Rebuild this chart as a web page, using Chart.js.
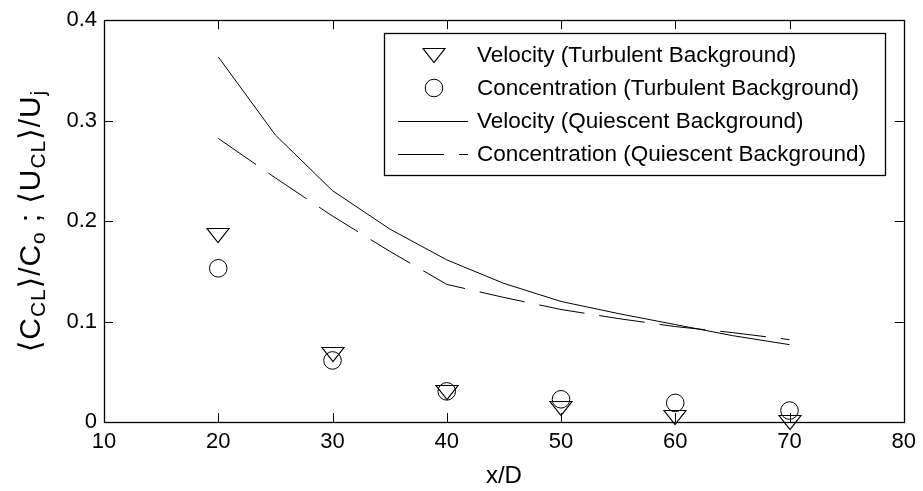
<!DOCTYPE html>
<html>
<head>
<meta charset="utf-8">
<script src="https://cdn.jsdelivr.net/npm/chart.js@4/dist/chart.umd.min.js"></script>
<style>
  html, body { margin: 0; padding: 0; background: #fff; }
  #wrap { width: 923px; height: 491px; }
</style>
</head>
<body>
<div id="wrap"><canvas id="c" width="923" height="491"></canvas></div>
<script>
// Axis ticks
const xTicks = [10, 20, 30, 40, 50, 60, 70, 80];
const yTicks = [0, 0.1, 0.2, 0.3, 0.4];
const yTickLabels = ['0', '0.1', '0.2', '0.3', '0.4'];

// Measured centreline decay in the turbulent background
const stationX = [20, 30, 40, 50, 60, 70];
const velocityTurbulent = [0.186, 0.0676, 0.029, 0.013, 0.004, 0.0];
const concentrationTurbulent = [0.153, 0.0613, 0.0305, 0.0226, 0.019, 0.0114];

// Reference profiles for the quiescent background
const profileX = [20, 25, 30, 35, 40, 45, 50, 55, 60, 65, 70];
const velocityQuiescent = [0.3635, 0.2857, 0.2303, 0.1922, 0.1614, 0.138, 0.120, 0.108, 0.097, 0.086, 0.077];
const concentrationQuiescent = [0.2823, 0.243, 0.205, 0.170, 0.137, 0.124, 0.112, 0.103, 0.095, 0.089, 0.082];

const seriesLabels = [
  'Velocity (Turbulent Background)',
  'Concentration (Turbulent Background)',
  'Velocity (Quiescent Background)',
  'Concentration (Quiescent Background)'
];

const FONT = '"Liberation Sans", Arial, "DejaVu Sans", sans-serif';

// Downward open triangle marker
function makeTriangle(w, h) {
  const c = document.createElement('canvas');
  c.width = w + 2; c.height = h + 2;
  const g = c.getContext('2d');
  g.strokeStyle = '#000';
  g.lineWidth = 1.2;
  g.beginPath();
  g.moveTo(1, 1.5);
  g.lineTo(w + 1, 1.5);
  g.lineTo(w / 2 + 1, h + 0.5);
  g.closePath();
  g.stroke();
  return c;
}
const triangleMarker = makeTriangle(22, 15);

const pts = (xs, ys) => xs.map((x, i) => ({ x: x, y: ys[i] }));

// Keep image markers sharp
const crispPlugin = {
  id: 'crisp',
  beforeDatasetsDraw(chart) { chart.ctx.imageSmoothingEnabled = false; },
  afterDatasetsDraw(chart) { chart.ctx.imageSmoothingEnabled = true; }
};

// Inward tick marks and the closed axes box
const framePlugin = {
  id: 'frame',
  afterDatasetsDraw(chart) {
    const { ctx, chartArea: a, scales } = chart;
    const len = 9;
    ctx.save();
    ctx.strokeStyle = '#000';
    ctx.lineWidth = 1;
    ctx.beginPath();
    scales.x.ticks.forEach(t => {
      const px = Math.round(scales.x.getPixelForValue(t.value)) + 0.5;
      ctx.moveTo(px, a.bottom); ctx.lineTo(px, a.bottom - len);
      ctx.moveTo(px, a.top); ctx.lineTo(px, a.top + len);
    });
    scales.y.ticks.forEach(t => {
      const py = Math.round(scales.y.getPixelForValue(t.value)) + 0.5;
      ctx.moveTo(a.left, py); ctx.lineTo(a.left + len, py);
      ctx.moveTo(a.right, py); ctx.lineTo(a.right - len, py);
    });
    ctx.stroke();
    ctx.lineWidth = 1.3;
    ctx.strokeRect(Math.round(a.left) + 0.5, Math.round(a.top) + 0.5,
                   Math.round(a.right - a.left), Math.round(a.bottom - a.top));
    ctx.restore();
  }
};

// Y-axis title with subscripts, written bottom-to-top
const yTitlePlugin = {
  id: 'yTitle',
  afterDraw(chart) {
    const { ctx, chartArea: a } = chart;
    const main = 30, sub = 21, gap = 0.9;
    const parts = [
      ['\u27E8', 0], ['C', 0], ['CL', 1], ['\u27E9', 0], ['/C', 0], ['o', 1],
      [' ; ', 0], ['\u27E8', 0], ['U', 0], ['CL', 1], ['\u27E9', 0], ['/U', 0], ['j', 1]
    ];
    ctx.save();
    ctx.fillStyle = '#000';
    ctx.textBaseline = 'alphabetic';
    let total = 0;
    const widths = parts.map(([t, s]) => {
      ctx.font = (s ? sub : main) + 'px ' + FONT;
      const w = ctx.measureText(t).width + gap * t.length;
      total += w;
      return w;
    });
    ctx.translate(40, (a.top + a.bottom) / 2);
    ctx.rotate(-Math.PI / 2);
    let x = -total / 2;
    parts.forEach(([t, s], i) => {
      ctx.font = (s ? sub : main) + 'px ' + FONT;
      let cx = x;
      for (const ch of t) {
        ctx.fillText(ch, cx, s ? 5 : 0);
        cx += ctx.measureText(ch).width + gap;
      }
      x += widths[i];
    });
    ctx.restore();
  }
};

// Boxed legend in the upper right of the plot area
const legendPlugin = {
  id: 'boxLegend',
  afterDraw(chart) {
    const { ctx } = chart;
    const box = { left: 384, top: 33, right: 885, bottom: 175 };
    const rowY = [55, 88, 121, 153.5];
    ctx.save();
    ctx.fillStyle = '#fff';
    ctx.fillRect(box.left, box.top, box.right - box.left, box.bottom - box.top);
    ctx.strokeStyle = '#000';
    ctx.lineWidth = 1.3;
    ctx.strokeRect(box.left + 0.5, box.top + 0.5, box.right - box.left, box.bottom - box.top);
    chart.data.datasets.forEach((ds, i) => {
      const y = rowY[i];
      ctx.strokeStyle = '#000';
      ctx.lineWidth = 1;
      if (ds.showLine) {
        ctx.setLineDash(ds.borderDash || []);
        ctx.beginPath();
        ctx.moveTo(398, Math.round(y) + 0.5);
        ctx.lineTo(468, Math.round(y) + 0.5);
        ctx.stroke();
        ctx.setLineDash([]);
      } else if (ds.pointStyle === 'circle') {
        ctx.beginPath();
        ctx.arc(434, y, ds.pointRadius, 0, Math.PI * 2);
        ctx.stroke();
      } else {
        const img = ds.pointStyle;
        ctx.drawImage(img, Math.round(434 - img.width / 2), Math.round(y - img.height / 2));
      }
      ctx.fillStyle = '#000';
      ctx.font = '22.5px ' + FONT;
      ctx.textBaseline = 'middle';
      ctx.fillText(ds.label, 477, y + 1);
    });
    ctx.restore();
  }
};

new Chart(document.getElementById('c'), {
  type: 'scatter',
  data: {
    datasets: [
      {
        label: seriesLabels[0],
        data: pts(stationX, velocityTurbulent),
        pointStyle: triangleMarker,
        pointRadius: 11,
        showLine: false,
        clip: false
      },
      {
        label: seriesLabels[1],
        data: pts(stationX, concentrationTurbulent),
        pointStyle: 'circle',
        pointRadius: 8.8,
        borderColor: '#000',
        borderWidth: 1,
        backgroundColor: 'rgba(0,0,0,0)',
        showLine: false,
        clip: false
      },
      {
        label: seriesLabels[2],
        data: pts(profileX, velocityQuiescent),
        showLine: true,
        borderColor: '#000',
        borderWidth: 1,
        pointRadius: 0,
        fill: false,
        tension: 0
      },
      {
        label: seriesLabels[3],
        data: pts(profileX, concentrationQuiescent),
        showLine: true,
        borderColor: '#000',
        borderWidth: 1,
        borderDash: [46, 15],
        pointRadius: 0,
        fill: false,
        tension: 0
      }
    ]
  },
  options: {
    responsive: false,
    devicePixelRatio: 1,
    animation: false,
    events: [],
    layout: { padding: { left: 0, right: 18, top: 19, bottom: 0 } },
    plugins: { legend: { display: false }, tooltip: { enabled: false } },
    scales: {
      x: {
        type: 'linear',
        min: xTicks[0],
        max: xTicks[xTicks.length - 1],
        afterBuildTicks: s => { s.ticks = xTicks.map(v => ({ value: v })); },
        afterFit: s => { s.height = 69; },
        grid: { display: false, drawTicks: false },
        border: { display: false },
        ticks: { color: '#000', padding: 7, font: { family: FONT, size: 22 }, maxRotation: 0 },
        title: { display: true, text: 'x/D', color: '#000', padding: 0, font: { family: FONT, size: 24 } }
      },
      y: {
        type: 'linear',
        min: yTicks[0],
        max: yTicks[yTicks.length - 1],
        afterBuildTicks: s => { s.ticks = yTicks.map(v => ({ value: v })); },
        afterFit: s => { s.width = 104; },
        grid: { display: false, drawTicks: false },
        border: { display: false },
        ticks: { color: '#000', padding: 7, font: { family: FONT, size: 22 },
                 callback: (v, i) => yTickLabels[i] }
      }
    }
  },
  plugins: [crispPlugin, framePlugin, yTitlePlugin, legendPlugin]
});
</script>
</body>
</html>
